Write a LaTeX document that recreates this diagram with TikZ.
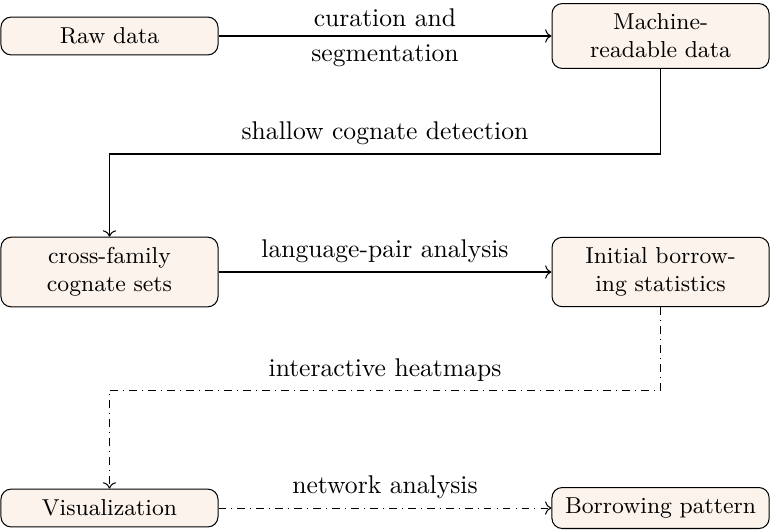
\documentclass[tikz,border=0pt]{standalone}
\usepackage{tikz}
\usetikzlibrary{arrows.meta}
\definecolor{stagefill}{RGB}{252,243,236}

\begin{document}
\begin{tikzpicture}[
    stage/.style = {draw, fill=stagefill, rounded corners, text width=2.2cm,
      align=center, minimum width=2.98cm, minimum height=0.52cm, inner sep=4pt,
      font=\small},
    widestage/.style = {stage, text width=2.7cm},
    flow/.style = {->},
    optflow/.style = {->, dash dot}
  ]
  \useasboundingbox (-1.503,0.494) rectangle (9.205,-6.796);

  % processing stages
  \node[stage] (raw) at (0,0) {Raw data};
  \node[stage] (machine) at (7.565,0) {Machine-readable data};
  \node[stage] (cross) at (0,-3.24) {cross-family cognate sets};
  \node[stage] (init) at (7.565,-3.24) {Initial borrowing statistics};
  \node[stage] (vis) at (0,-6.48) {Visualization};
  \node[widestage] (pattern) at (7.565,-6.48) {Borrowing pattern};

  \coordinate (bendA) at (3.7825,-1.62);
  \coordinate (bendB) at (3.7825,-4.86);

  \draw[flow] (raw) -- node[above] {curation and} node[below] {segmentation} (machine);
  \draw[flow] (machine.south) |- (bendA) node[above] {shallow cognate detection} -| (cross.north);
  \draw[flow] (cross) -- node[above] {language-pair analysis} (init);
  \draw[optflow] (init.south) |- (bendB) node[above] {interactive heatmaps} -| (vis.north);
  \draw[optflow] (vis) -- node[above] {network analysis} (pattern);
\end{tikzpicture}
\end{document}
